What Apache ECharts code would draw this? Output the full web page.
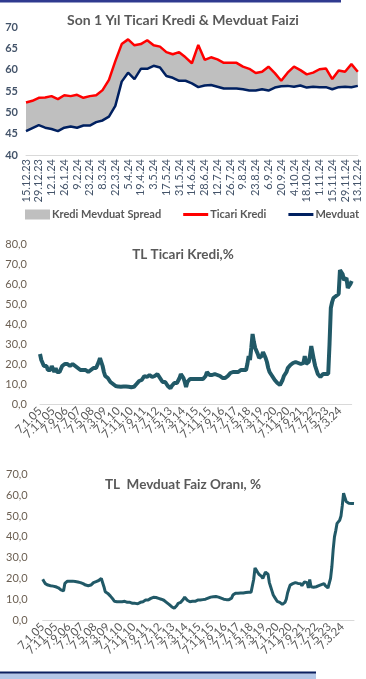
<!DOCTYPE html>
<html><head><meta charset="utf-8">
<script src="https://cdn.jsdelivr.net/npm/echarts@6/dist/echarts.min.js"></script>
<style>html,body{margin:0;padding:0;background:#fff}#c{width:366px;height:679px}</style>
</head><body><div id="c"></div>
<script>
// ---- Chart 1: last year weekly ----
const weeks = ['15.12.23','22.12.23','29.12.23','5.1.24','12.1.24','19.1.24','26.1.24','2.2.24','9.2.24','16.2.24','23.2.24','1.3.24','8.3.24','15.3.24','22.3.24','29.3.24','5.4.24','12.4.24','19.4.24','26.4.24','3.5.24','10.5.24','17.5.24','24.5.24','31.5.24','7.6.24','14.6.24','21.6.24','28.6.24','5.7.24','12.7.24','19.7.24','26.7.24','2.8.24','9.8.24','16.8.24','23.8.24','30.8.24','6.9.24','13.9.24','20.9.24','27.9.24','4.10.24','11.10.24','18.10.24','25.10.24','1.11.24','8.11.24','15.11.24','22.11.24','29.11.24','6.12.24','13.12.24'];
const ticariKredi = [52.3,52.7,53.4,53.5,53.8,53.1,54.0,53.8,54.1,53.4,53.8,54.0,55.2,57.6,62.0,66.0,67.1,65.7,66.0,66.9,65.7,65.4,64.1,63.6,64.1,62.9,61.5,65.8,62.3,62.9,62.4,61.6,61.6,61.6,60.7,60.2,59.2,59.5,60.7,59.2,57.4,59.3,60.7,59.9,58.9,59.3,60.1,60.3,57.8,59.8,59.5,61.3,59.5];
const mevduat = [45.6,46.3,47.0,46.4,46.1,45.6,46.4,46.7,46.4,46.9,46.9,47.7,48.1,49.0,51.5,57.2,59.3,57.8,60.2,60.2,60.9,60.5,58.5,58.1,57.4,57.4,56.8,55.9,56.3,56.4,56.0,55.6,55.6,55.6,55.4,55.1,55.1,55.4,55.1,55.8,56.1,56.2,56.0,56.3,55.8,56.0,55.9,55.9,55.4,55.9,56.0,55.9,56.2];

// ---- Chart 2 & 3: monthly since Jan 2005 ----
const tlTicariKredi = [
25,22,21,19,18,19,17,18,17,19,20,16,
18,16,17,16,17,19,20,20,19,20,20,19,
19,20,19,19,18,18,18,17,17,17,16,17,
17,16,17,17,18,18,18,18,19,21,23,22,
19,16,14,13,13,12,11,10,10,9.5,9,9,
8.7,8.5,8.6,8.8,8.7,8.6,8.7,8.8,8.6,8.5,8.4,8.5,
8.6,9,10,11,11.5,11,12,13,14,14.5,13.5,14,
14.5,14,13.5,14,14,13,15,14.5,13,12,11,12,
11,10,9,9.5,7.8,9,10,10.5,10,10.5,11,13,
15,14,13,11,8.5,11,12,12.5,12,12.5,12,12.5,
12,12.5,13,12.5,13,12.5,13,14,16,15,14.5,15,
14.5,15,15,14,14.5,15,14,13.5,13,13.5,13,14,
14,15,15.5,16,16,15.5,16,16.5,16,16.5,17,17,
17,17.5,17,20,24,22,28,35,31,28,27,25,
23,22,24,26,27,23,21,18,16,15,14,13,
12,11,10.5,10,9.5,10,12,14,15,16,18,19,
19.5,20,20.5,20,21,20.5,20.5,21,20,20,20.5,24,
20,20,21,24,29,28,22,19,17,15,14,13.5,
14,15,14.5,15,14.5,15,30,48,51,53,53.5,54,
54,55,67,66.5,65,62,61,63,58,57.5,60,61.5];
const tlMevduat = [
19.6,18.5,17.5,16.8,16.8,16.5,16.5,16.5,16.3,16.2,16,16,
15.5,15,14.5,14,14,17.6,18.5,18.7,18.5,18.7,18.5,18.7,
18.5,18.5,18.2,18.3,18,18,17.5,17.5,17,16.8,16.5,16.5,
16.3,16.8,17.5,18,18.5,18.5,18.8,19,19.5,20,19.5,16,
13.6,13,12.8,12,11.5,11.3,10,9,8.8,8.8,8.8,8.8,
8.8,8.8,8.8,9,8.8,8.5,8.8,8.5,8.3,8,8.2,8,
7.2,7.8,8,8.5,8.8,8.8,9,9.6,9,9.6,10,10.4,
10.6,10.9,10.5,10.8,10.4,10.4,10.5,10,10,9.5,8.8,8.5,
8,7.5,7.2,6.4,6,5.6,6,7,8,8.8,8.5,9,
10,11,10.5,9.5,9,8.8,8.8,9,9.2,9,9.3,9.6,
9.5,9.6,9.8,9.8,10,10,10.2,10.5,10.5,11,11,11.2,
11,11.3,11.2,11,10.8,10.5,10.2,10,9.8,9.8,9.6,9.8,
10,10.5,12,12.5,12.9,12.5,12.9,13,13,13.2,13,13.4,
13.2,13.4,13.4,13.5,13.4,14,19.6,25,24,23,22,21.6,
21,20,20,23,23.2,22,18,16,14,12,11,10.4,
9,8.8,8.5,8,7.5,7.8,8.5,10,13,15,16.8,17,
17.5,17.6,18,18,17.6,18,17.5,16.5,16,18.3,18.3,18,
15.4,19.5,16,15.4,15.8,16.5,16,15.8,16.5,16,17,17.5,
17.5,16.5,16,15.4,16,20,25.6,33.7,40,43,46.5,47,
48,50,55,61,59,57,56.5,56.2,56,56.1,56.3,56];

const months = [];
for (let y = 2005; y <= 2024; y++) for (let m = 1; m <= 12; m++) months.push('7.' + m + '.' + String(y).slice(2));
const spread = ticariKredi.map((v, i) => +(v - mevduat[i]).toFixed(2));

const FONT = 'Lato';
const chart = echarts.init(document.getElementById('c'), null, {renderer: 'canvas'});
const fmt = v => v.toFixed(1).replace('.', ',');
const monthAxisLabel = {interval: 0, rotate: 45, fontSize: 11.5, color: '#595959', margin: 5, fontFamily: FONT,
  formatter: (v, i) => (i % 10 === 0 ? v : '')};
chart.setOption({
  animation: false,
  textStyle: {fontFamily: FONT},
  title: [
    {text: 'Son 1 Yıl Ticari Kredi & Mevduat Faizi', left: 'center', top: 8, textStyle: {fontSize: 14, fontWeight: 'bold', color: '#595959', fontFamily: FONT}},
    {text: 'TL Ticari Kredi,%', left: 'center', top: 243, textStyle: {fontSize: 13.5, fontWeight: 'bold', color: '#595959', fontFamily: FONT}},
    {text: 'TL  Mevduat Faiz Oranı, %', left: 'center', top: 473, textStyle: {fontSize: 13.5, fontWeight: 'bold', color: '#595959', fontFamily: FONT}}
  ],
  legend: {
    left: 20, top: 204, itemWidth: 25, itemHeight: 10, itemGap: 22, symbolKeepAspect: true,
    textStyle: {fontSize: 11, fontWeight: 'bold', color: '#595959', fontFamily: FONT, padding: [0,0,0,-3]},
    data: [
      {name: 'Kredi Mevduat Spread', icon: 'rect'},
      {name: 'Ticari Kredi', icon: 'path://M0,0H25V3H0Z'},
      {name: 'Mevduat', icon: 'path://M0,0H25V3H0Z'}
    ]
  },
  grid: [
    {left: 26, width: 331.8, top: 27, height: 128},
    {left: 40, width: 311.7, top: 244, height: 160},
    {left: 42.7, width: 311.3, top: 474.5, height: 145.5}
  ],
  xAxis: [
    {gridIndex: 0, type: 'category', data: weeks, boundaryGap: false,
     axisLine: {lineStyle: {color: '#D9D9D9'}}, axisTick: {show: false},
     axisLabel: {interval: 1, rotate: 90, fontSize: 11, color: '#44546A', margin: 4, fontFamily: FONT}},
    {gridIndex: 1, type: 'category', data: months, boundaryGap: false,
     axisLine: {lineStyle: {color: '#D9D9D9'}}, axisTick: {show: false}, axisLabel: monthAxisLabel},
    {gridIndex: 2, type: 'category', data: months, boundaryGap: false,
     axisLine: {lineStyle: {color: '#D9D9D9'}}, axisTick: {show: false}, axisLabel: monthAxisLabel}
  ],
  yAxis: [
    {gridIndex: 0, type: 'value', min: 40, max: 70, interval: 5, splitLine: {show: false},
     axisLabel: {fontSize: 11, fontWeight: 'bold', color: '#44546A', margin: 8, fontFamily: FONT}},
    {gridIndex: 1, type: 'value', min: 0, max: 80, interval: 10, splitLine: {show: false},
     axisLabel: {fontSize: 11, color: '#6b5f52', margin: 13, formatter: fmt, fontFamily: FONT}},
    {gridIndex: 2, type: 'value', min: 0, max: 70, interval: 10, splitLine: {show: false},
     axisLabel: {fontSize: 11, color: '#6b5f52', margin: 15, formatter: fmt, fontFamily: FONT}}
  ],
  series: [
    {name: 'base', type: 'line', xAxisIndex: 0, yAxisIndex: 0, stack: 'sp', data: mevduat, symbol: 'none',
     lineStyle: {width: 0, opacity: 0}, areaStyle: {opacity: 0}, silent: true},
    {name: 'Kredi Mevduat Spread', type: 'line', xAxisIndex: 0, yAxisIndex: 0, stack: 'sp', data: spread, symbol: 'none',
     color: '#BFBFBF', itemStyle: {color: '#BFBFBF'}, lineStyle: {width: 0, opacity: 0}, areaStyle: {color: '#BFBFBF', opacity: 1}},
    {name: 'Ticari Kredi', type: 'line', xAxisIndex: 0, yAxisIndex: 0, data: ticariKredi, symbol: 'none',
     color: '#FF0000', lineStyle: {width: 2.5, color: '#FF0000'}},
    {name: 'Mevduat', type: 'line', xAxisIndex: 0, yAxisIndex: 0, data: mevduat, symbol: 'none',
     color: '#002060', lineStyle: {width: 2.5, color: '#002060'}},
    {name: 'TL Ticari Kredi', type: 'line', xAxisIndex: 1, yAxisIndex: 1, data: tlTicariKredi, symbol: 'none',
     lineStyle: {width: 4, color: '#215967'}},
    {name: 'TL Mevduat', type: 'line', xAxisIndex: 2, yAxisIndex: 2, data: tlMevduat, symbol: 'none',
     lineStyle: {width: 3, color: '#215967'}}
  ],
  graphic: [
    {type: 'rect', shape: {x: 0, y: 0, width: 341, height: 2.5}, style: {fill: '#2F3A8F'}},
    {type: 'rect', shape: {x: 0, y: 671.5, width: 316, height: 2.2}, style: {fill: '#0B2060'}},
    {type: 'rect', shape: {x: 0, y: 673.7, width: 316, height: 5.3}, style: {fill: '#B4C7E7'}}
  ]
});
</script></body></html>
